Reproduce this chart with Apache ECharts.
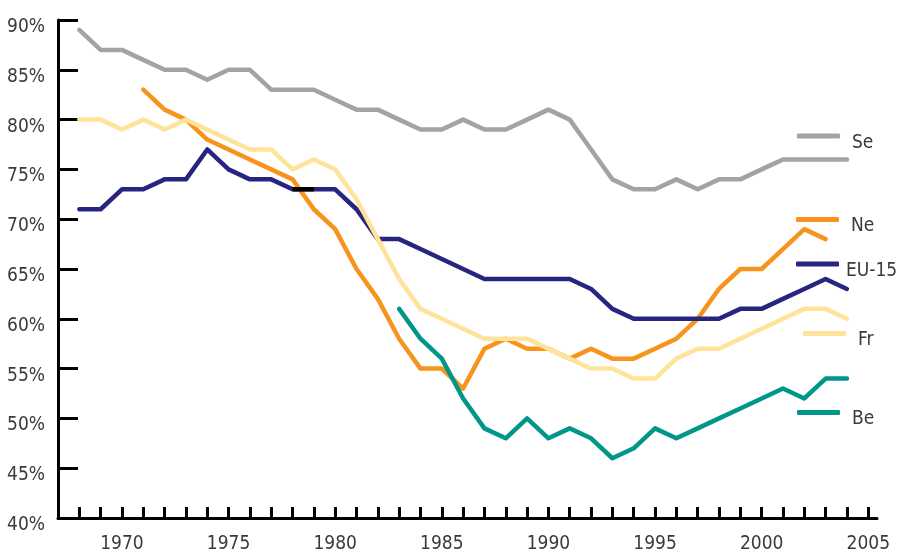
<!DOCTYPE html>
<html>
<head>
<meta charset="utf-8">
<script src="https://cdn.jsdelivr.net/npm/echarts@6/dist/echarts.min.js"></script>
<style>
html,body{margin:0;padding:0;background:#fff;}
#chart{width:898px;height:556px;}
</style>
</head>
<body>
<div id="chart"></div>
<script>
// Years 1968..2004
var years = [1968,1969,1970,1971,1972,1973,1974,1975,1976,1977,1978,1979,1980,1981,1982,1983,1984,1985,1986,1987,1988,1989,1990,1991,1992,1993,1994,1995,1996,1997,1998,1999,2000,2001,2002,2003,2004];
var seValues = [89,87,87,86,85,85,84,85,85,83,83,83,82,81,81,80,79,79,80,79,79,80,81,80,77,74,73,73,74,73,74,74,75,76,76,76,76];
var neValues = [null,null,null,83,81,80,78,77,76,75,74,71,69,65,62,58,55,55,53,57,58,57,57,56,57,56,56,57,58,60,63,65,65,67,69,68,null];
var euValues = [71,71,73,73,74,74,77,75,74,74,73,73,73,71,68,68,67,66,65,64,64,64,64,64,63,61,60,60,60,60,60,61,61,62,63,64,63];
var frValues = [80,80,79,80,79,80,79,78,77,77,75,76,75,72,68,64,61,60,59,58,58,58,57,56,55,55,54,54,56,57,57,58,59,60,61,61,60];
var beValues = [null,null,null,null,null,null,null,null,null,null,null,null,null,null,null,61,58,56,52,49,48,50,48,49,48,46,47,49,48,49,50,51,52,53,52,54,54];
// short black segment visible on the EU-15 line
var overlapYears = [1978,1979];
var overlapValues = [73,73];
// axis ticks / labels
var tickYears = [1968,1969,1970,1971,1972,1973,1974,1975,1976,1977,1978,1979,1980,1981,1982,1983,1984,1985,1986,1987,1988,1989,1990,1991,1992,1993,1994,1995,1996,1997,1998,1999,2000,2001,2002,2003,2004,2005];
var labelYears = [1970,1975,1980,1985,1990,1995,2000,2005];
var seriesNames = ['Se','Ne','EU-15','Fr','Be'];
var seriesColors = ['#a3a3a3','#f7941d','#272580','#ffe39a','#00968a'];

function pairs(xs, vs){
  var out = [];
  for (var i = 0; i < xs.length; i++) out.push([xs[i], vs[i]]);
  return out;
}

// pick a narrow font if one is installed
function hasFont(name){
  var c = document.createElement('canvas').getContext('2d');
  var s = 'EU-15 1970 90%';
  c.font = '40px monospace'; var w1 = c.measureText(s).width;
  c.font = '40px "' + name + '", monospace'; var w2 = c.measureText(s).width;
  c.font = '40px serif'; var w3 = c.measureText(s).width;
  c.font = '40px "' + name + '", serif'; var w4 = c.measureText(s).width;
  return w1 !== w2 || w3 !== w4;
}
var FONT, FS;
if (hasFont('Liberation Sans Narrow')) { FONT = "'Liberation Sans Narrow'"; FS = 21; }
else { FONT = "'DejaVu Sans Condensed','DejaVu Sans',sans-serif"; FS = 19; }
var TXT = '#3a3a3a';

var chart = echarts.init(document.getElementById('chart'), null, {renderer:'canvas'});

var allValues = [seValues, neValues, euValues, frValues, beValues];
var series = seriesNames.map(function(n, i){
  return {
    name: n, type: 'line', data: pairs(years, allValues[i]),
    showSymbol: false, symbol: 'none', connectNulls: false,
    lineStyle: {color: seriesColors[i], width: 4.5, cap: 'round', join: 'round'},
    itemStyle: {color: seriesColors[i]},
    z: 2 + i
  };
});
series.push({
  name: 'overlap', type: 'line', data: pairs(overlapYears, overlapValues),
  showSymbol: false, symbol: 'none',
  lineStyle: {color: '#000', width: 4.5}, z: 10
});

var legendPos = [
  {name:'Se', left:797, top:133.5, gap:7},
  {name:'Ne', left:796, top:217, gap:7},
  {name:'EU-15', left:796, top:261.5, gap:2},
  {name:'Fr', left:803, top:331, gap:7},
  {name:'Be', left:797, top:410, gap:7}
];
var legends = legendPos.map(function(p){
  return {
    data: [p.name], left: p.left, top: p.top, padding: 0,
    icon: 'roundRect', itemWidth: 43, itemHeight: 5,
    selectedMode: false,
    formatter: '{a|{name}}',
    textStyle: {fontFamily: FONT, fontSize: FS, color: TXT,
      rich: {a: {fontFamily: FONT, fontSize: FS, color: TXT, padding: [14,0,0,p.gap]}}}
  };
});

chart.setOption({
  animation: false,
  backgroundColor: '#fff',
  grid: {left: 58, right: 21, top: 20, bottom: 38, containLabel: false},
  legend: legends,
  xAxis: {
    type: 'value', min: 1967, max: 2005.41,
    axisLine: {show: true, lineStyle: {color: '#000', width: 3}},
    axisTick: {show: true, inside: true, length: 11, lineStyle: {color: '#000', width: 3}, customValues: tickYears},
    axisLabel: {customValues: labelYears, fontFamily: FONT, fontSize: FS, color: TXT, margin: 17,
      formatter: function(v){ return String(v); }},
    splitLine: {show: false}
  },
  yAxis: {
    type: 'value', min: 40, max: 90, interval: 5,
    axisLine: {show: true, lineStyle: {color: '#000', width: 3}},
    axisTick: {show: true, inside: true, length: 20, lineStyle: {color: '#000', width: 3}},
    axisLabel: {margin: 13, formatter: '{a|{value}%}',
      rich: {a: {fontFamily: FONT, fontSize: FS, color: TXT, padding: [14,0,0,0]}}},
    splitLine: {show: false}
  },
  series: series
});
</script>
</body>
</html>
